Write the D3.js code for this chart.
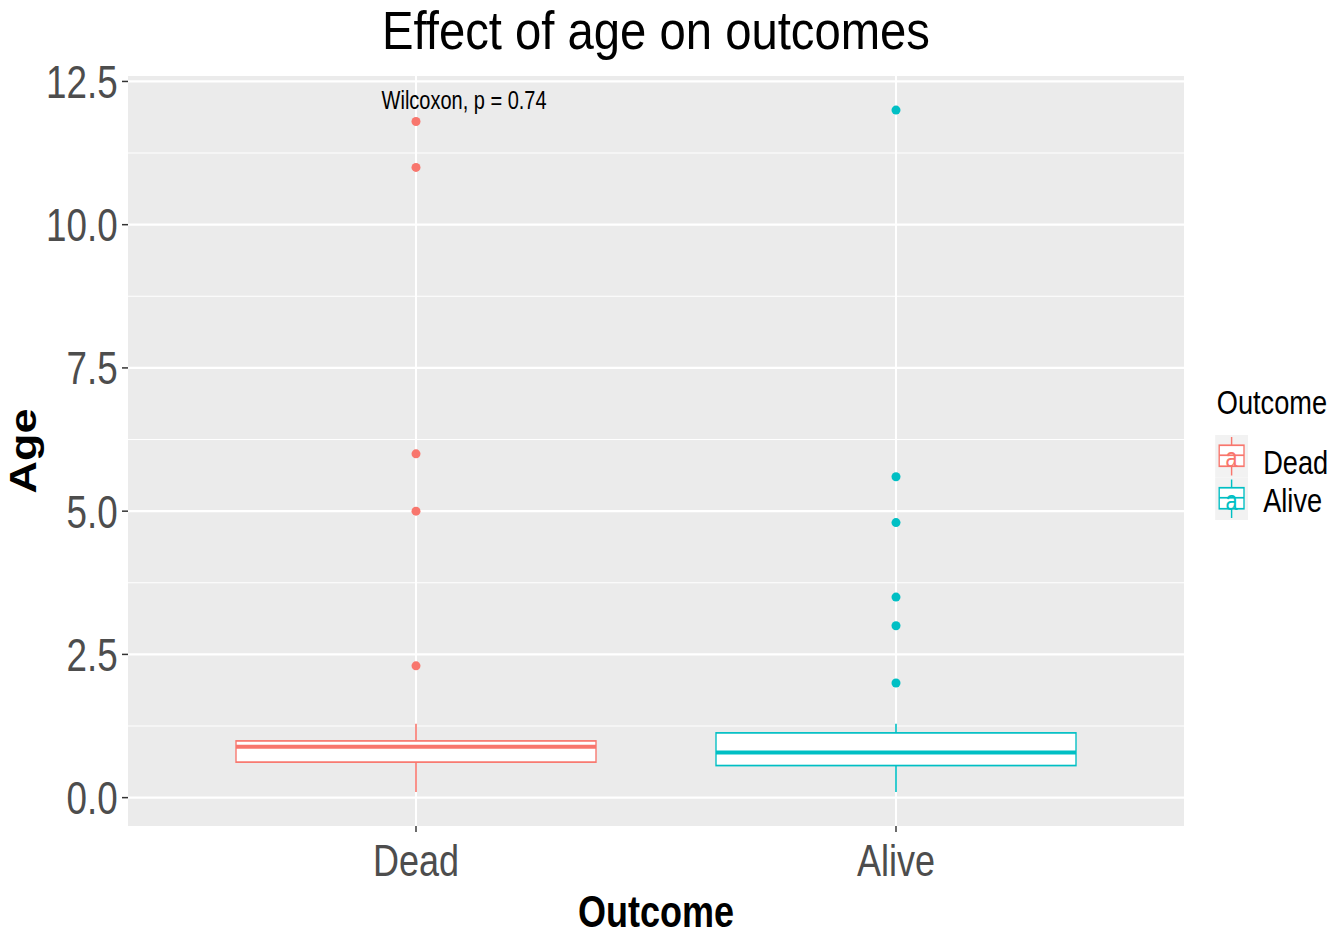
<!DOCTYPE html>
<html>
<head>
<meta charset="utf-8">
<script src="https://cdn.jsdelivr.net/npm/d3@7"></script>
<style>
  html, body { margin: 0; padding: 0; background: #ffffff; }
  svg { display: block; }
  text { font-family: "Liberation Sans", Arial, sans-serif; }
</style>
</head>
<body>
<svg id="chart"></svg>
<script>
// ---- data ----
const categories = ["Dead", "Alive"];
const colors = ["#F8766D", "#00BFC4"];
const whiskerLow = [0.1, 0.1];
const q1 = [0.62, 0.56];
const medians = [0.89, 0.79];
const q3 = [0.99, 1.13];
const whiskerHigh = [1.29, 1.29];
const outliersDead = [2.3, 5.0, 6.0, 11.0, 11.8];
const outliersAlive = [2.0, 3.0, 3.5, 4.8, 5.6, 12.0];
const yTicks = [0, 2.5, 5, 7.5, 10, 12.5];
const yMinor = [1.25, 3.75, 6.25, 8.75, 11.25];
const titleText = "Effect of age on outcomes";
const xTitle = "Outcome";
const yTitle = "Age";
const legendTitle = "Outcome";
const annotation = "Wilcoxon, p = 0.74";

// ---- layout (the picture is horizontally condensed) ----
const W = 1330, H = 937, S = 0.8;
const VW = W / S;
const svg = d3.select("#chart")
  .attr("width", W).attr("height", H)
  .attr("viewBox", `0 0 ${VW} ${H}`)
  .attr("preserveAspectRatio", "none");

const panel = { left: 160, right: 1480, top: 76, bottom: 826 };

const outliers = [outliersDead, outliersAlive];
const allVals = whiskerLow.concat(whiskerHigh, outliersDead, outliersAlive);
const lo = d3.min(allVals), hi = d3.max(allVals);
const pad = (hi - lo) * 0.05;

const y = d3.scaleLinear().domain([lo - pad, hi + pad]).range([panel.bottom, panel.top]);
const x = d3.scalePoint().domain(categories).range([panel.left, panel.right]).padding(0.6);
const boxW = x.step() * 0.75;

// panel background
svg.append("rect")
  .attr("x", panel.left).attr("y", panel.top)
  .attr("width", panel.right - panel.left).attr("height", panel.bottom - panel.top)
  .attr("fill", "#EBEBEB");

// grid
svg.append("g").selectAll("line").data(yMinor).join("line")
  .attr("x1", panel.left).attr("x2", panel.right)
  .attr("y1", d => y(d)).attr("y2", d => y(d))
  .attr("stroke", "#ffffff").attr("stroke-width", 1.1);
svg.append("g").selectAll("line").data(yTicks).join("line")
  .attr("x1", panel.left).attr("x2", panel.right)
  .attr("y1", d => y(d)).attr("y2", d => y(d))
  .attr("stroke", "#ffffff").attr("stroke-width", 2.2);
svg.append("g").selectAll("line").data(categories).join("line")
  .attr("x1", d => x(d)).attr("x2", d => x(d))
  .attr("y1", panel.top).attr("y2", panel.bottom)
  .attr("stroke", "#ffffff").attr("stroke-width", 2.6);

// boxes
categories.forEach((c, i) => {
  const g = svg.append("g");
  const cx = x(c);
  g.append("line").attr("x1", cx).attr("x2", cx)
    .attr("y1", y(whiskerHigh[i])).attr("y2", y(q3[i]))
    .attr("stroke", colors[i]).attr("stroke-width", 2);
  g.append("line").attr("x1", cx).attr("x2", cx)
    .attr("y1", y(q1[i])).attr("y2", y(whiskerLow[i]))
    .attr("stroke", colors[i]).attr("stroke-width", 2);
  g.append("rect")
    .attr("x", cx - boxW / 2).attr("width", boxW)
    .attr("y", y(q3[i])).attr("height", y(q1[i]) - y(q3[i]))
    .attr("fill", "#ffffff").attr("stroke", colors[i]).attr("stroke-width", 1.7);
  g.append("line").attr("x1", cx - boxW / 2).attr("x2", cx + boxW / 2)
    .attr("y1", y(medians[i])).attr("y2", y(medians[i]))
    .attr("stroke", colors[i]).attr("stroke-width", 4);
  g.selectAll("ellipse").data(outliers[i]).join("ellipse")
    .attr("cx", cx).attr("cy", d => y(d))
    .attr("rx", 4.5 / S).attr("ry", 4.5)
    .attr("fill", colors[i]);
});

// annotation
svg.append("text").attr("x", 477).attr("y", 109)
  .attr("font-size", 25).attr("fill", "#000").text(annotation);

// y axis
const yAxis = svg.append("g");
yAxis.selectAll("line").data(yTicks).join("line")
  .attr("x1", panel.left - 7.5).attr("x2", panel.left)
  .attr("y1", d => y(d)).attr("y2", d => y(d))
  .attr("stroke", "#333333").attr("stroke-width", 1.5);
yAxis.selectAll("text").data(yTicks).join("text")
  .attr("x", panel.left - 13).attr("y", d => y(d))
  .attr("dy", "0.36em").attr("text-anchor", "end")
  .attr("font-size", 46).attr("fill", "#4D4D4D")
  .text(d => d3.format(".1f")(d));

// x axis
const xAxis = svg.append("g");
xAxis.selectAll("line").data(categories).join("line")
  .attr("x1", d => x(d)).attr("x2", d => x(d))
  .attr("y1", panel.bottom).attr("y2", panel.bottom + 6)
  .attr("stroke", "#333333").attr("stroke-width", 1.8);
xAxis.selectAll("text").data(categories).join("text")
  .attr("x", d => x(d)).attr("y", 876)
  .attr("text-anchor", "middle")
  .attr("font-size", 45).attr("fill", "#4D4D4D")
  .text(d => d);

// titles
svg.append("text").attr("x", (panel.left + panel.right) / 2).attr("y", 49)
  .attr("text-anchor", "middle").attr("font-size", 54).attr("fill", "#000")
  .attr("textLength", 685).attr("lengthAdjust", "spacingAndGlyphs")
  .text(titleText);
svg.append("text").attr("x", (panel.left + panel.right) / 2).attr("y", 927)
  .attr("text-anchor", "middle").attr("font-size", 45).attr("font-weight", "bold")
  .attr("fill", "#000").text(xTitle);
svg.append("text")
  .attr("transform", `translate(45,${(panel.top + panel.bottom) / 2}) rotate(-90)`)
  .attr("text-anchor", "middle").attr("font-size", 45).attr("font-weight", "bold")
  .attr("fill", "#000").text(yTitle);

// legend
const lg = svg.append("g");
lg.append("text").attr("x", 1521).attr("y", 414)
  .attr("font-size", 34).attr("fill", "#000").text(legendTitle);
const keyX = 1519, keyW = 41, keyH = 42.5, keyY0 = 435;
categories.forEach((c, i) => {
  const ky = keyY0 + i * keyH;
  const cy = ky + keyH / 2;
  const cx = keyX + keyW / 2;
  lg.append("rect").attr("x", keyX).attr("y", ky)
    .attr("width", keyW).attr("height", keyH).attr("fill", "#F2F2F2");
  lg.append("line").attr("x1", cx).attr("x2", cx)
    .attr("y1", ky + 2).attr("y2", ky + keyH - 2)
    .attr("stroke", colors[i]).attr("stroke-width", 1.8);
  lg.append("rect").attr("x", keyX + 5).attr("y", cy - 11)
    .attr("width", keyW - 10).attr("height", 21)
    .attr("fill", "#ffffff").attr("stroke", colors[i]).attr("stroke-width", 1.7);
  lg.append("line").attr("x1", keyX + 5).attr("x2", keyX + keyW - 5)
    .attr("y1", cy - 1).attr("y2", cy - 1)
    .attr("stroke", colors[i]).attr("stroke-width", 1.7);
  lg.append("text").attr("x", cx).attr("y", cy + 11)
    .attr("text-anchor", "middle").attr("font-size", 27)
    .attr("fill", colors[i]).text("a");
  lg.append("text").attr("x", 1579).attr("y", [474, 512][i])
    .attr("font-size", 34).attr("fill", "#000").text(c);
});
</script>
</body>
</html>
